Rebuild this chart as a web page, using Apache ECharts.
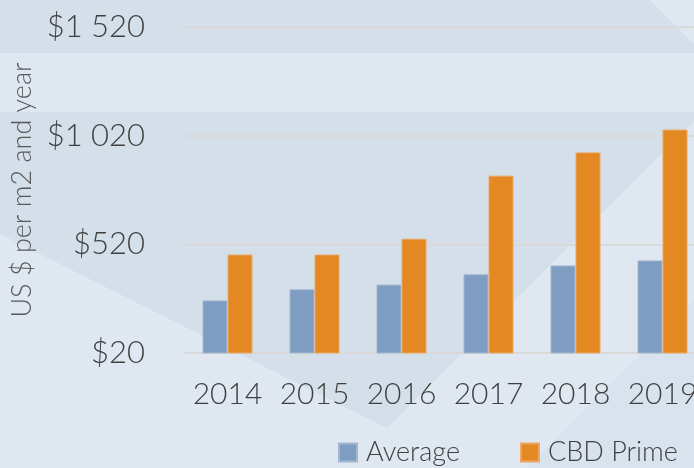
<!DOCTYPE html>
<html>
<head>
<meta charset="utf-8">
<script src="https://cdn.jsdelivr.net/npm/echarts@6/dist/echarts.min.js"></script>
<style>
  html, body { margin: 0; padding: 0; background: #dfe7f0; }
  #chart { width: 694px; height: 468px; }
</style>
</head>
<body>
<div id="chart"></div>
<script>
// data
var years = ['2014', '2015', '2016', '2017', '2018', '2019'];
var averageRent = [262, 313, 335, 382, 423, 446];
var cbdPrimeRent = [473, 473, 546, 836, 943, 1048];
var seriesNames = ['Average', 'CBD Prime'];
var yTitle = 'US $ per m2 and year';

function money(v) {
    var s = String(Math.round(v));
    if (s.length > 3) {
        s = s.slice(0, s.length - 3) + ' ' + s.slice(s.length - 3);
    }
    return '$' + s;
}

var darkBg = '#d4dfea';

var chart = echarts.init(document.querySelector('#chart'));
chart.setOption({
    backgroundColor: '#dfe7f0',
    textStyle: { fontFamily: 'Lato' },
    graphic: [
        // background shapes
        { type: 'polygon', z: -10, silent: true,
          shape: { points: [[0, 0], [650, 0], [694, 44], [694, 53], [0, 53]] },
          style: { fill: darkBg } },
        { type: 'polygon', z: -10, silent: true,
          shape: { points: [[0, 112], [694, 112], [694, 121], [387, 428], [0, 234]] },
          style: { fill: darkBg } },
        { type: 'polygon', z: -10, silent: true,
          shape: { points: [[527, 468], [694, 301], [694, 468]] },
          style: { fill: '#d9e3ed' } }
    ],
    grid: {
        left: 184,
        top: 27,
        width: 522,
        height: 326,
        outerBoundsMode: 'none'
    },
    legend: {
        left: 333,
        top: 434,
        icon: 'rect',
        itemWidth: 18,
        itemHeight: 18,
        itemGap: 60,
        textStyle: { fontSize: 27, color: '#404040', fontFamily: 'Lato', fontWeight: 300, padding: [0, 0, 0, 4] },
        data: seriesNames
    },
    xAxis: {
        type: 'category',
        data: years,
        axisLine: { show: true, lineStyle: { color: '#d9d9d9', width: 2 } },
        axisTick: { show: false },
        axisLabel: { interval: 0, fontSize: 30, color: '#404040', margin: 26, fontFamily: 'Lato', fontWeight: 300 }
    },
    yAxis: {
        type: 'value',
        min: 20,
        max: 1520,
        interval: 500,
        name: yTitle,
        nameLocation: 'middle',
        nameRotate: 90,
        nameGap: 146,
        nameTextStyle: { fontSize: 27, color: '#595959', fontFamily: 'Lato', fontWeight: 300 },
        axisLine: { show: false },
        axisTick: { show: false },
        axisLabel: {
            fontSize: 31,
            color: '#404040',
            margin: 39,
            fontFamily: 'Lato',
            fontWeight: 300,
            formatter: money
        },
        splitLine: { lineStyle: { color: '#d9d9d9', width: 2 } }
    },
    series: [
        {
            name: seriesNames[0],
            type: 'bar',
            data: averageRent,
            barWidth: 25,
            barGap: '0%',
            itemStyle: { color: '#7f9dc3', borderColor: '#a3b7d1', borderWidth: 1 }
        },
        {
            name: seriesNames[1],
            type: 'bar',
            data: cbdPrimeRent,
            barWidth: 25,
            itemStyle: { color: '#e38822', borderColor: '#eaa862', borderWidth: 1 }
        }
    ]
});
</script>
</body>
</html>
